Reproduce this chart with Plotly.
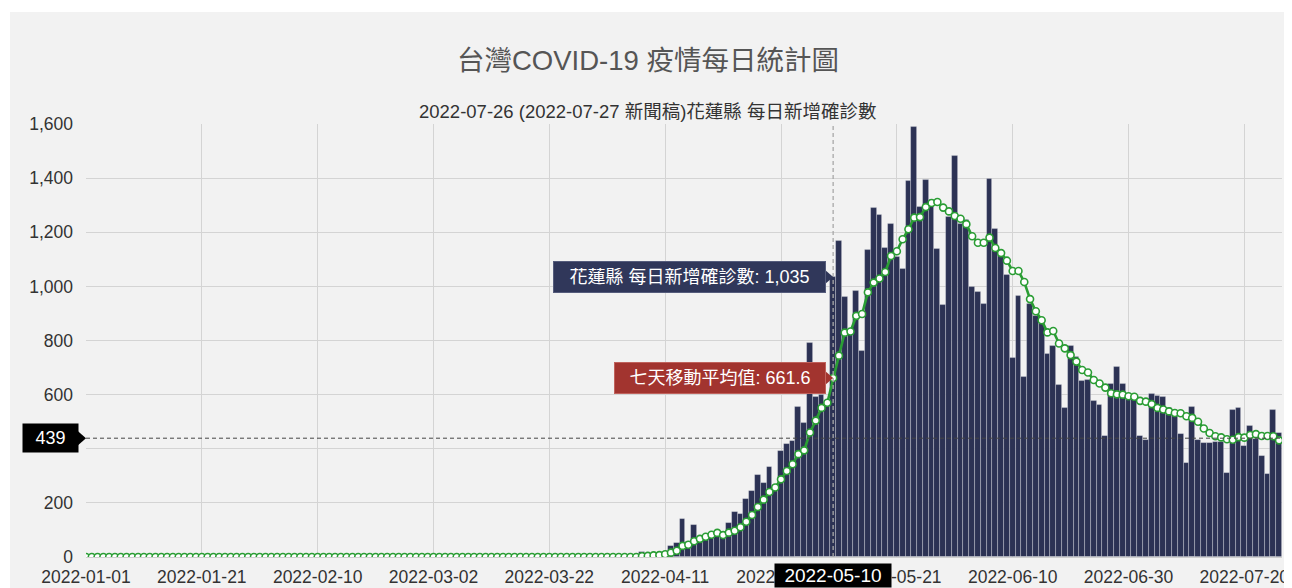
import pandas as pd
import plotly.graph_objects as go

# ---------------- data ----------------
start_date = "2022-01-01"

daily_cases = [
    0, 0, 0, 0, 0, 0, 0, 0, 0, 0,
    0, 0, 0, 0, 0, 0, 0, 0, 0, 0,
    0, 0, 0, 0, 0, 0, 0, 0, 0, 0,
    0, 0, 0, 0, 0, 0, 0, 0, 0, 0,
    0, 0, 0, 0, 0, 0, 0, 0, 0, 0,
    0, 0, 0, 0, 0, 0, 0, 0, 0, 0,
    0, 0, 0, 0, 0, 0, 0, 0, 0, 0,
    0, 0, 0, 0, 0, 0, 0, 0, 0, 0,
    0, 0, 0, 0, 0, 0, 0, 0, 0, 0,
    0, 0, 0, 0, 0, 0, 20, 8, 10, 12,
    18, 41, 51, 139, 55, 117, 67, 75, 85, 90,
    85, 124, 167, 159, 215, 244, 304, 275, 331, 265,
    392, 418, 430, 555, 494, 790, 592, 600, 565, 1035,
    1168, 960, 826, 984, 760, 1133, 1291, 1263, 1140, 1229,
    1110, 1065, 1389, 1588, 1295, 1393, 1320, 1137, 931, 1257,
    1482, 1230, 1245, 999, 980, 934, 1395, 1211, 1128, 1042,
    736, 966, 666, 935, 890, 872, 750, 781, 636, 552,
    780, 740, 650, 654, 578, 562, 448, 639, 701, 638,
    599, 599, 447, 432, 601, 596, 592, 549, 530, 455,
    348, 555, 432, 422, 420, 426, 426, 312, 543, 549,
    410, 484, 435, 373, 307, 543, 457,
]

moving_avg = [
    0, 0, 0, 0, 0, 0, 0, 0, 0, 0,
    0, 0, 0, 0, 0, 0, 0, 0, 0, 0,
    0, 0, 0, 0, 0, 0, 0, 0, 0, 0,
    0, 0, 0, 0, 0, 0, 0, 0, 0, 0,
    0, 0, 0, 0, 0, 0, 0, 0, 0, 0,
    0, 0, 0, 0, 0, 0, 0, 0, 0, 0,
    0, 0, 0, 0, 0, 0, 0, 0, 0, 0,
    0, 0, 0, 0, 0, 0, 0, 0, 0, 0,
    0, 0, 0, 0, 0, 0, 0, 0, 0, 0,
    0, 0, 0, 0, 0, 0, 3, 4, 6, 7,
    10, 16, 23, 41, 45, 58, 67, 75, 82, 89,
    81, 90, 97, 110, 130, 155, 185, 212, 240, 257,
    287, 318, 343, 380, 394, 460, 504, 551, 570, 661.6,
    744, 829, 833, 891, 898, 978, 1014, 1029, 1053, 1112,
    1130, 1174, 1211, 1254, 1256, 1293, 1308, 1312, 1291, 1277,
    1260, 1250, 1230, 1185, 1161, 1161, 1180, 1142, 1123, 1095,
    1057, 1057, 1016, 953, 908, 875, 830, 835, 789, 771,
    746, 722, 691, 682, 654, 641, 626, 605, 601, 600,
    594, 592, 577, 574, 565, 551, 545, 538, 532, 531,
    520, 514, 500, 475, 458, 446, 442, 435, 433, 443,
    441, 451, 454, 447, 447, 446, 431,
]

y_ticks = [0, 200, 400, 600, 800, 1000, 1200, 1400, 1600]
x_tick_step_days = 20

hover_date = "2022-05-10"
crosshair_value = 439

title_text = "台灣COVID-19 疫情每日統計圖"
subtitle_text = "2022-07-26 (2022-07-27 新聞稿)花蓮縣 每日新增確診數"
series_bar_name = "花蓮縣 每日新增確診數"
series_ma_name = "七天移動平均值"

# ---------------- figure ----------------
dates = pd.date_range(start_date, periods=len(daily_cases), freq="D")
hover_idx = list(dates).index(pd.Timestamp(hover_date))
hover_cases = daily_cases[hover_idx]
hover_ma = moving_avg[hover_idx]

# y tick labels: the one hidden behind the crosshair label box is left blank
y_ticktext = ["" if abs(v - crosshair_value) < 60 else f"{v:,}" for v in y_ticks]

FONT = "Liberation Sans, Arial, Noto Sans CJK TC, sans-serif"
NAVY = "#2c3254"
GREEN = "#2a9d34"
DAY_MS = 86400000
TICK_SIZE = 17.5

fig = go.Figure()
fig.add_bar(
    x=dates, y=daily_cases, name=series_bar_name, width=DAY_MS,
    marker=dict(color=NAVY, line=dict(color="rgba(255,255,255,0.35)", width=0.8)),
)
fig.add_scatter(
    x=dates, y=moving_avg, name=series_ma_name, mode="lines+markers",
    line=dict(color=GREEN, width=2.6),
    marker=dict(size=7, color="white", line=dict(color=GREEN, width=1.6)),
)

OFF = 8  # page body margin
W, H = 1284, 580
L, R, T, B = 78, 10, 116, 31
pw, ph = W - L - R, H - T - B

def px_x(p):
    return (p - OFF - L) / pw

def px_y(p):
    return (H - B - (p - OFF)) / ph

fig.update_layout(
    width=W, height=H,
    margin=dict(l=L, r=R, t=T, b=B, autoexpand=False),
    paper_bgcolor="white",
    plot_bgcolor="rgba(0,0,0,0)",
    showlegend=False,
    bargap=0,
    font=dict(family=FONT, size=TICK_SIZE, color="#333333"),
    title=dict(
        text=title_text, x=(648 - OFF) / W, xanchor="center", xref="container",
        y=1 - (60 - OFF) / H, yanchor="middle", yref="container",
        font=dict(family=FONT, size=27.5, color="#555555"),
    ),
    xaxis=dict(
        type="date", automargin=False,
        range=[str(dates[0]), str(dates[-1] + pd.Timedelta(hours=12))],
        tick0=start_date, dtick=x_tick_step_days * DAY_MS,
        tickformat="%Y-%m-%d",
        showgrid=True, gridcolor="#d4d4d4", gridwidth=1,
        ticks="", ticklabelstandoff=4,
        showline=True, linecolor="#cfcfcf",
        zeroline=False,
        tickfont=dict(size=TICK_SIZE, color="#333333"),
    ),
    yaxis=dict(
        automargin=False,
        range=[0, 1600], tickvals=y_ticks, ticktext=y_ticktext,
        showgrid=True, gridcolor="#d4d4d4", gridwidth=1,
        ticks="", ticklabelstandoff=12,
        zeroline=False, showline=False,
        tickfont=dict(size=TICK_SIZE, color="#333333"),
    ),
)

# chart panel background with thin white frame
fig.add_shape(
    type="rect", xref="paper", yref="paper", layer="below",
    x0=px_x(10), x1=px_x(1290), y0=px_y(H + 20), y1=px_y(12),
    fillcolor="#f2f2f2", line=dict(width=0),
)

# crosshairs
fig.add_shape(
    type="line", xref="x", yref="paper", x0=hover_date, x1=hover_date, y0=0, y1=1,
    line=dict(color="#a8a8a8", width=1.3, dash="4px,3px"),
)
fig.add_shape(
    type="line", xref="paper", yref="y", x0=0, x1=1, y0=crosshair_value, y1=crosshair_value,
    line=dict(color="#444444", width=1, dash="4px,3px"),
)

# tooltip pointers
def pointer(xref, xanchor, yanchor, path, color):
    fig.add_shape(
        type="path", xref=xref, yref="y", xsizemode="pixel", ysizemode="pixel",
        xanchor=xanchor, yanchor=yanchor, path=path,
        fillcolor=color, line=dict(width=0),
    )

BAR_TIP = "#30375a"
MA_TIP = "#a2342f"
pointer("x", hover_date, hover_cases, "M -8,7 L 0,0 L -8,-7 Z", BAR_TIP)
pointer("x", hover_date, hover_ma, "M -8,7 L 0,0 L -8,-7 Z", MA_TIP)
pointer("x", hover_date, 0, "M -7,-7 L 0,0 L 7,-7 Z", "#000000")
pointer("paper", 0, crosshair_value, "M -8,7 L 0,0 L -8,-7 Z", "#000000")

# tooltips
fig.add_annotation(
    x=hover_date, y=hover_cases, xref="x", yref="y",
    text=f"{series_bar_name}: {hover_cases:,}",
    showarrow=False, xanchor="right", yanchor="middle", xshift=-7,
    bgcolor=BAR_TIP, bordercolor="#555c7c", borderwidth=1, borderpad=6,
    width=259, height=18, font=dict(color="white", size=18, family=FONT),
)
fig.add_annotation(
    x=hover_date, y=hover_ma, xref="x", yref="y",
    text=f"{series_ma_name}: {hover_ma}",
    showarrow=False, xanchor="right", yanchor="middle", xshift=-7,
    bgcolor=MA_TIP, bordercolor="#c0625c", borderwidth=1, borderpad=6,
    width=198, height=18, font=dict(color="white", size=18, family=FONT),
)
fig.add_annotation(
    x=hover_date, y=0, xref="x", yref="y",
    text=hover_date, showarrow=False, xanchor="center", yanchor="top", yshift=-6,
    bgcolor="#000000", borderpad=2, width=112, height=19,
    font=dict(color="white", size=19, family=FONT),
)
fig.add_annotation(
    x=0, y=crosshair_value, xref="paper", yref="y",
    text=str(crosshair_value), showarrow=False, xanchor="right", yanchor="middle", xshift=-7,
    bgcolor="#000000", borderpad=4, width=47, height=20,
    font=dict(color="white", size=18, family=FONT),
)

# subtitle
fig.add_annotation(
    x=px_x(648), y=px_y(112), xref="paper", yref="paper",
    text=subtitle_text, showarrow=False, xanchor="center", yanchor="middle",
    font=dict(size=18.5, color="#333333", family=FONT),
)

fig.write_html("out.html")
